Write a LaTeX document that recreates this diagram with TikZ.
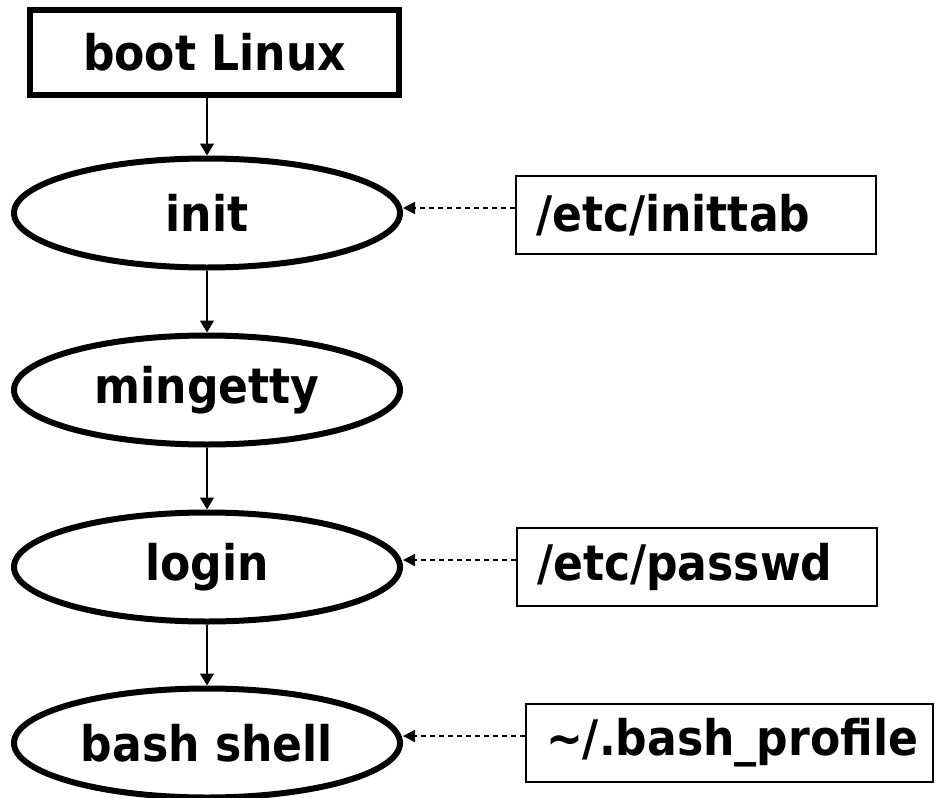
\documentclass[tikz,border=0pt]{standalone}
\usepackage{fontspec}
\setmainfont{DejaVu Sans Condensed}
\usetikzlibrary{shapes,
				arrows.meta,
				positioning}

\begin{document}
\begin{tikzpicture}[x=1pt, y=1pt,
	font=\fontsize{49}{58}\selectfont\bfseries,
	proc/.style={draw, ellipse, line width=6pt, minimum width=386pt, minimum height=109pt, inner sep=0pt},
	filebox/.style={draw, line width=2pt, anchor=west, inner xsep=20pt, minimum height=78pt, align=left},
	flow/.style={line width=1.5pt, -{Triangle[length=12pt,width=14pt]}},
	cfg/.style={line width=1.5pt, dash pattern=on 5pt off 4pt, -{Triangle[length=12pt,width=12pt]}}]

\useasboundingbox (0,0) rectangle (948,-798);

% main chain
\node[draw, line width=6pt, minimum width=369pt, minimum height=85pt] (boot) at (214.5,-52.5) {boot Linux};
\node[proc] (init) at (207,-213) {init};
\node[proc] (mingetty) at (207,-390) {mingetty};
\node[proc] (login) at (207,-567) {login};
\node[proc] (bash) at (207,-743) {bash shell};

\draw[flow] (init.north |- boot.south) -- (init.north);
\draw[flow] (init.south) -- (mingetty.north);
\draw[flow] (mingetty.south) -- (login.north);
\draw[flow] (login.south) -- (bash.north);

% config files
\node[filebox, text width=320pt] (inittab) at (515,-215) {/etc/inittab};
\node[filebox, text width=320pt] (passwd) at (516,-567) {/etc/passwd};
\node[filebox, text width=367pt] (profile) at (525,-743) {\textasciitilde/.bash\_profile};

\draw[cfg] ([yshift=7pt]inittab.west) -- ([yshift=7pt]inittab.west -| init.east);
\draw[cfg] ([yshift=7pt]passwd.west) -- ([yshift=7pt]passwd.west -| login.east);
\draw[cfg] ([yshift=7pt]profile.west) -- ([yshift=7pt]profile.west -| bash.east);

\end{tikzpicture}
\end{document}
